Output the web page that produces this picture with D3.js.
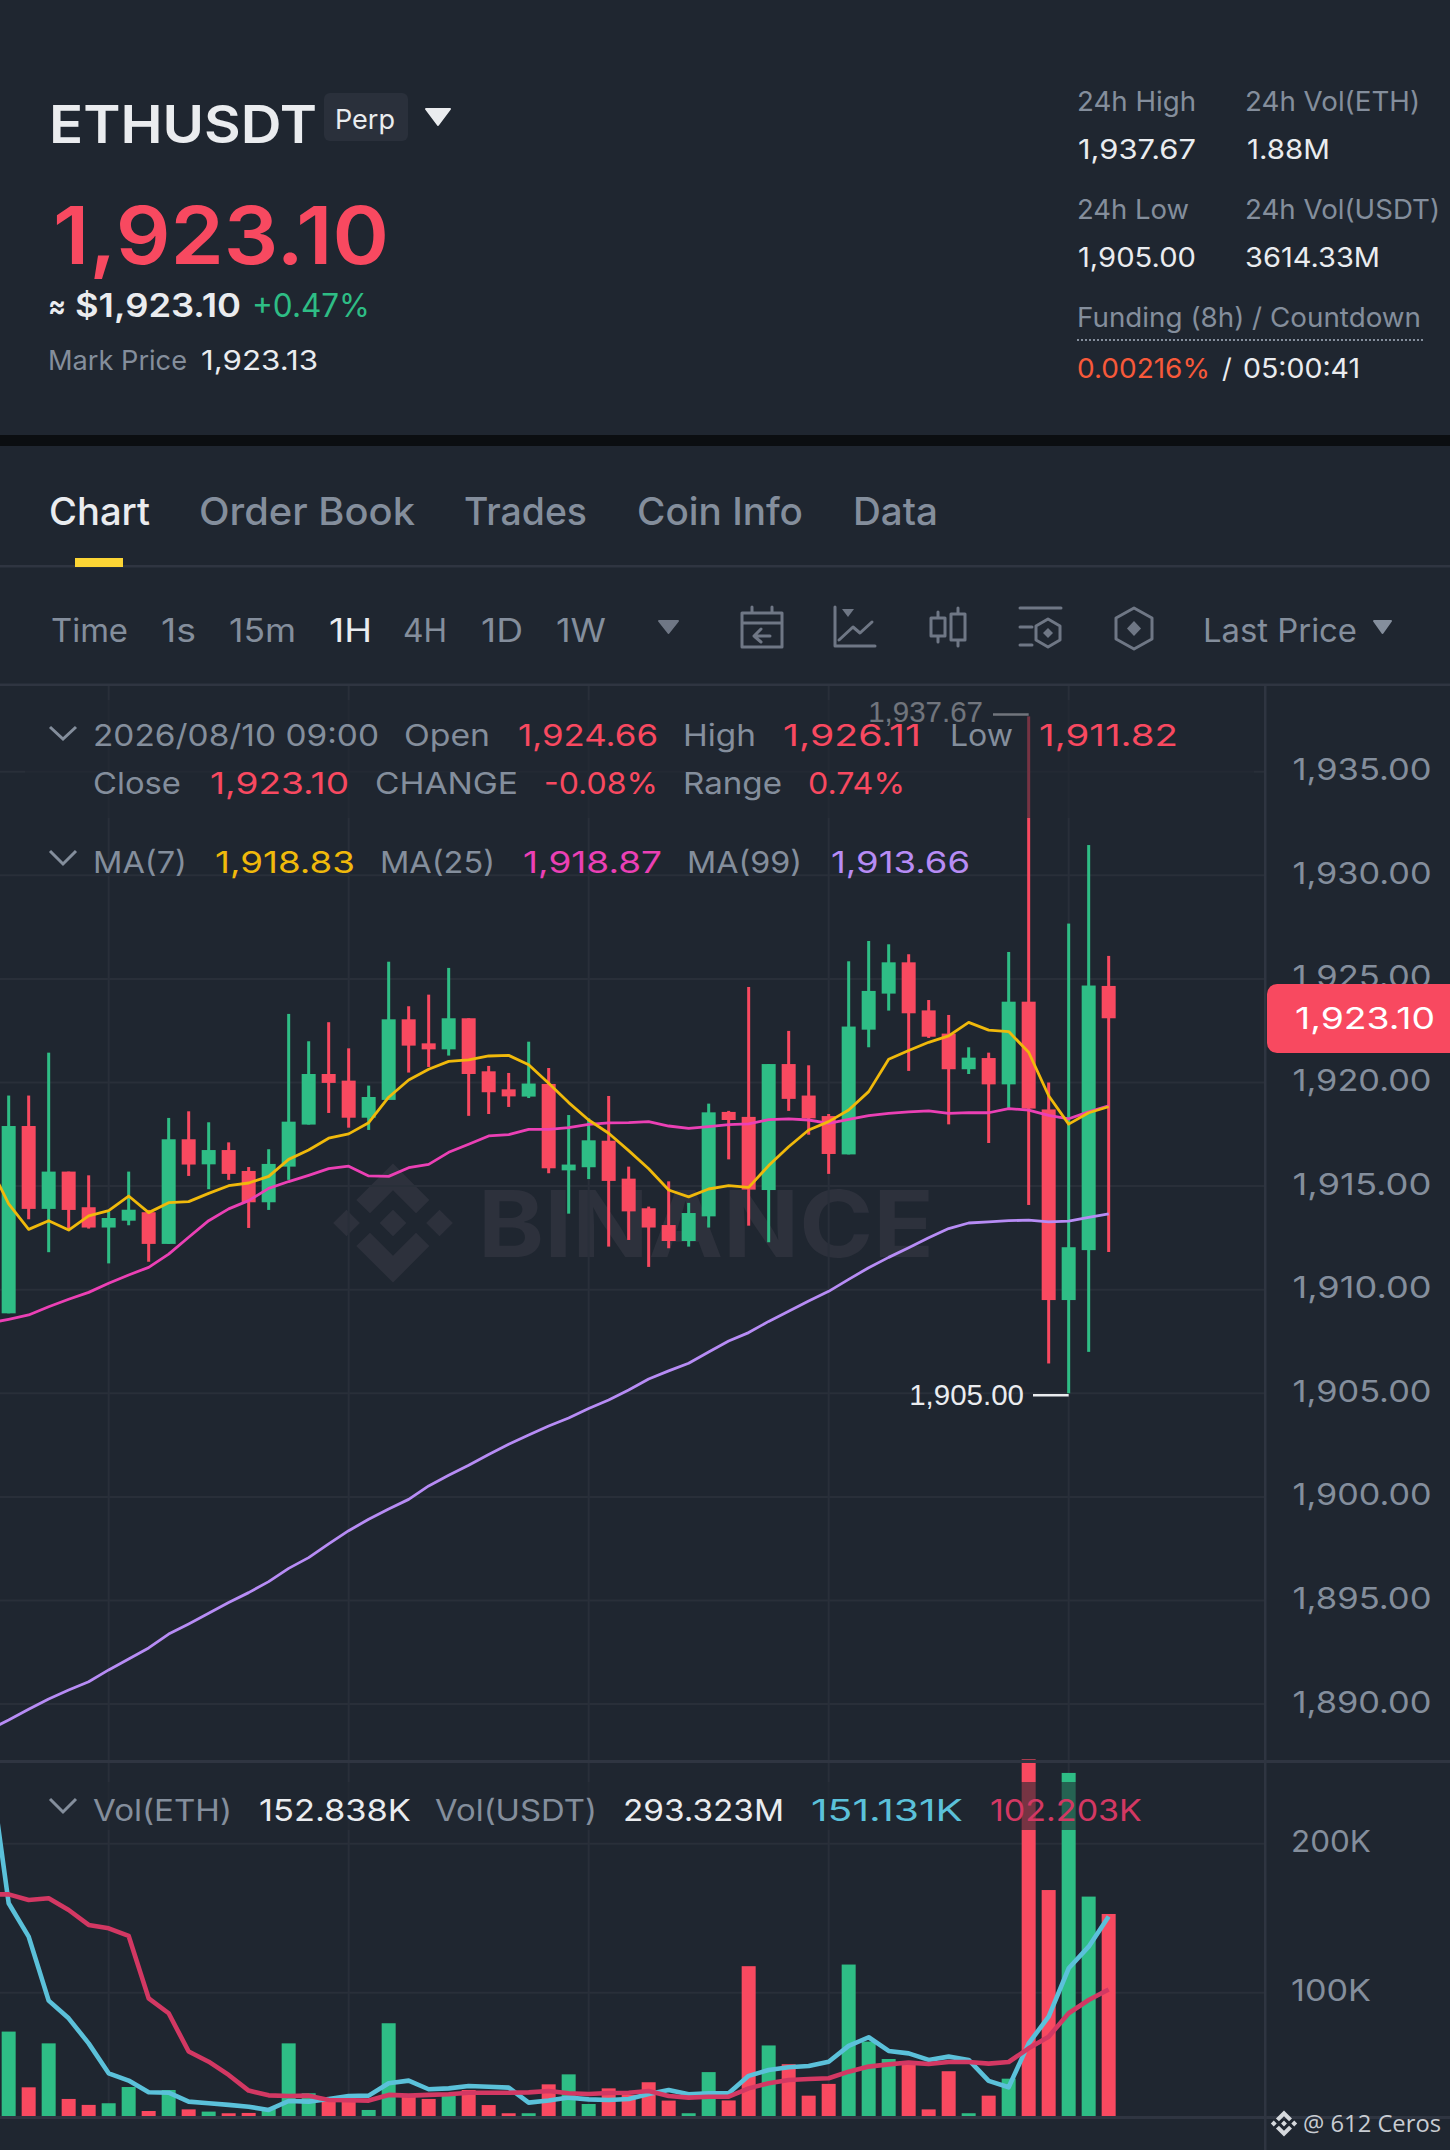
<!DOCTYPE html>
<html><head><meta charset="utf-8">
<style>html,body{margin:0;padding:0;background:#1f2630;overflow:hidden}svg{display:block}text{font-family:Inter,sans-serif}</style>
<script src="https://cdnjs.cloudflare.com/ajax/libs/d3/7.8.5/d3.min.js"></script>
</head><body><svg id="c" width="1450" height="2150" viewBox="0 0 1450 2150"></svg>
<script>
// candle data: [open, high, low, close]
const candles = [
[1908.86,1919.37,1908.86,1917.90],[1917.90,1919.37,1913.40,1913.90],[1913.90,1921.44,1911.81,1915.70],[1915.70,1915.70,1912.88,1913.85],
[1913.98,1915.52,1912.95,1913.00],[1913.00,1913.77,1911.27,1913.46],[1913.33,1915.70,1913.11,1913.86],[1913.74,1913.85,1911.35,1912.21],
[1912.21,1918.29,1912.21,1917.26],[1917.26,1918.61,1915.49,1916.04],[1916.05,1918.08,1914.85,1916.74],[1916.74,1917.11,1915.30,1915.59],
[1915.73,1915.92,1912.98,1914.22],[1914.22,1916.78,1913.85,1916.07],[1915.94,1923.31,1915.30,1918.11],[1917.97,1921.99,1917.97,1920.41],
[1920.41,1922.91,1918.53,1919.98],[1920.09,1921.65,1917.82,1918.30],[1918.30,1919.85,1917.71,1919.30],[1919.16,1925.83,1919.16,1923.05],
[1923.05,1923.68,1920.48,1921.78],[1921.89,1924.24,1920.75,1921.60],[1921.60,1925.53,1921.30,1923.10],[1923.10,1923.10,1918.39,1920.41],
[1920.54,1920.80,1918.48,1919.53],[1919.67,1920.46,1918.82,1919.33],[1919.32,1921.97,1919.25,1919.95],[1919.93,1920.70,1915.62,1915.86],
[1915.76,1918.43,1913.67,1916.04],[1915.91,1918.27,1915.34,1917.21],[1917.19,1919.35,1912.08,1915.25],[1915.36,1915.94,1912.40,1913.78],
[1913.93,1914.01,1911.10,1913.00],[1913.12,1915.23,1912.00,1912.35],[1912.35,1914.19,1912.08,1913.70],[1913.54,1918.98,1913.00,1918.56],
[1918.58,1918.63,1916.29,1918.19],[1918.34,1924.61,1913.09,1914.83],[1914.81,1920.89,1912.29,1920.89],[1920.89,1922.49,1918.63,1919.21],
[1919.37,1920.83,1917.48,1918.27],[1918.38,1918.48,1915.59,1916.55],[1916.53,1925.85,1916.53,1922.70],[1922.55,1926.83,1921.70,1924.42],
[1924.29,1926.67,1923.47,1925.80],[1925.80,1926.19,1920.56,1923.34],[1923.48,1923.98,1922.15,1922.21],[1922.36,1923.26,1917.98,1920.64],
[1920.64,1921.70,1920.41,1921.20],[1921.18,1921.44,1917.08,1919.91],[1919.91,1926.30,1918.74,1923.90],[1923.90,1937.67,1914.09,1918.74],
[1918.70,1920.00,1906.44,1909.50],[1909.50,1927.67,1905.00,1912.05],[1911.91,1931.46,1907.00,1924.68],[1924.66,1926.11,1911.82,1923.10]];
// moving averages; first entry is the candle just left of the window
const ma7 = [1916.10,1914.14,1912.91,1913.33,1912.88,1913.56,1913.82,1914.52,1913.72,1914.20,1914.25,1914.65,1915.02,1915.15,1915.47,1916.29,1916.74,1917.31,1917.52,1918.06,1919.29,1920.12,1920.64,1921.02,1921.09,1921.28,1921.31,1920.86,1919.96,1919.03,1918.19,1917.55,1916.71,1915.84,1914.81,1914.48,1914.86,1915.02,1914.94,1915.99,1916.90,1917.71,1918.11,1918.67,1919.56,1921.12,1921.54,1921.94,1922.25,1922.90,1922.53,1922.46,1921.46,1919.36,1917.99,1918.54,1918.83];
const ma25 = [1908.38,1908.57,1908.78,1909.18,1909.54,1909.87,1910.31,1910.71,1911.08,1911.72,1912.53,1913.33,1913.90,1914.30,1914.89,1915.22,1915.52,1915.84,1915.96,1915.49,1915.47,1915.89,1916.05,1916.63,1917.02,1917.42,1917.48,1917.74,1917.74,1917.82,1917.98,1918.05,1918.06,1918.11,1917.90,1917.79,1917.87,1917.97,1918.00,1918.21,1918.24,1918.19,1918.03,1918.22,1918.40,1918.51,1918.58,1918.63,1918.51,1918.55,1918.54,1918.74,1918.67,1918.41,1918.25,1918.58,1918.87];
const ma99 = [1888.75,1889.23,1889.75,1890.25,1890.68,1891.08,1891.65,1892.18,1892.71,1893.38,1893.87,1894.38,1894.90,1895.38,1895.91,1896.55,1897.07,1897.73,1898.37,1898.92,1899.42,1899.88,1900.53,1901.04,1901.53,1902.05,1902.54,1902.99,1903.42,1903.81,1904.27,1904.68,1905.16,1905.69,1906.08,1906.45,1906.99,1907.52,1907.93,1908.47,1908.96,1909.46,1909.92,1910.50,1911.06,1911.56,1912.03,1912.51,1912.95,1913.22,1913.27,1913.33,1913.36,1913.27,1913.31,1913.49,1913.66];
// volume in thousands of ETH
const volume = [73.9,36.5,66.0,28.7,24.7,25.8,36.7,20.6,34.7,21.7,20.2,19.1,19.3,22.4,66.0,32.5,29.1,29.1,21.3,79.5,30.2,28.7,31.4,34.7,24.6,19.1,19.1,38.5,45.2,25.3,35.8,31.4,39.9,27.6,19.1,46.7,27.7,117.8,64.6,52.0,30.9,38.8,118.9,67.2,55.5,53.7,21.7,47.3,19.1,30.9,42.3,256.6,168.9,247.5,164.5,152.838];
const volMaBlue = [258,160.0,137.6,94.7,82.8,66.0,45.9,41.0,33.2,32.9,26.9,25.8,24.7,23.5,21.3,27.3,26.9,28.7,30.7,30.9,39.2,41.0,35.2,35.8,37.4,36.9,36.3,26.2,27.6,29.6,28.4,28.0,28.7,32.0,34.7,31.8,32.5,32.5,44.2,48.1,50.0,50.8,53.7,64.3,70.1,60.9,59.3,54.9,57.1,54.9,40.8,36.5,66.0,83.9,116.4,130.9,151.131];
const volMaRed = [166.0,166.0,162.2,163.4,155.5,145.5,143.2,138.1,96.2,86.2,60.5,53.7,44.8,34.3,31.1,30.7,30.9,28.0,27.8,27.6,31.4,30.9,31.4,31.8,32.9,32.9,32.9,33.1,34.0,32.5,32.0,32.7,32.9,34.0,30.7,29.6,30.2,30.2,35.8,39.2,41.4,42.1,42.6,47.0,50.4,51.9,53.1,52.2,53.5,53.5,52.4,53.5,62.7,70.5,86.2,95.1,102.203];
const priceTicks = [1890,1895,1900,1905,1910,1915,1920,1925,1930,1935];
const volTicks = [100,200];
const gridIndexes = [5,17,29,41,53];
const periodTabs = ["Chart","Order Book","Trades","Coin Info","Data"];

const BG="#1f2630", RED="#f84960", GREEN="#2ebd85", GREY="#848e9c", WHITE="#eaecef", GRID="#292f39", SEP="#2f3541";
const svg=d3.select("#c");
const x=d3.scaleLinear().domain([0,55]).range([8.67,1108.67]);
const y=d3.scaleLinear().domain([1905,1935]).range([1393.3,771.7]);
const yV=d3.scaleLinear().domain([0,200]).range([2141.7,1843.7]);
const VOL_BASE=2116.7, BODY=14, WICK=3;

svg.append("rect").attr("width",1450).attr("height",2150).attr("fill",BG);

function txt(par,s,xp,base,size,fill,o={}){
  const t=par.append("text").attr("x",xp).attr("y",base).attr("font-size",size).attr("fill",fill).text(s)
    .attr("font-weight",o.weight||400);
  if(o.w){t.attr("textLength",o.w).attr("lengthAdjust",o.adjust||"spacingAndGlyphs");}
  if(o.family)t.style("font-family",o.family);
  if(o.anchor)t.attr("text-anchor",o.anchor);
  return t;
}
const tri=(par,x0,x1,y0,y1,fill)=>par.append("path").attr("d",`M${x0} ${y0}L${x1} ${y0}L${(x0+x1)/2} ${y1}Z`).attr("fill",fill).attr("stroke",fill).attr("stroke-width",2).attr("stroke-linejoin","round");
const chev=(par,x0,x1,y0,y1)=>par.append("path").attr("d",`M${x0} ${y0}L${(x0+x1)/2} ${y1}L${x1} ${y0}`).attr("fill","none").attr("stroke",GREY).attr("stroke-width",3);

// ---------- header
const head=svg.append("g");
txt(head,"ETHUSDT",49,143,52,WHITE,{weight:600,w:268});
head.append("rect").attr("x",324).attr("y",93).attr("width",84).attr("height",48).attr("rx",6).attr("fill","#2a303b");
txt(head,"Perp",335,129,27,WHITE,{w:60});
tri(head,426,450,109,125,WHITE);
txt(head,"1,923.10",53,264,80,RED,{weight:600,w:336});
txt(head,"≈",48,317,32,WHITE,{weight:600,w:18});
txt(head,"$1,923.10",75,317,32,WHITE,{weight:600,w:166});
txt(head,"+0.47%",252,317,32,GREEN,{w:118});
txt(head,"Mark Price",48,370,27,GREY,{w:139});
txt(head,"1,923.13",201,370,27,WHITE,{w:117});
txt(head,"24h High",1077,111,27,GREY,{w:119});
txt(head,"24h Vol(ETH)",1245,111,27,GREY,{w:175});
txt(head,"1,937.67",1078,159,27,WHITE,{w:118});
txt(head,"1.88M",1247,159,27,WHITE,{w:83});
txt(head,"24h Low",1077,219,27,GREY,{w:112});
txt(head,"24h Vol(USDT)",1245,219,27,GREY,{w:195});
txt(head,"1,905.00",1078,267,27,WHITE,{w:118});
txt(head,"3614.33M",1245,267,27,WHITE,{w:135});
txt(head,"Funding (8h) / Countdown",1077,327,27,GREY,{w:344});
head.append("line").attr("x1",1077).attr("x2",1423).attr("y1",340).attr("y2",340).attr("stroke",GREY).attr("stroke-width",2).attr("stroke-dasharray","2 2");
txt(head,"0.00216%",1077,378,27,"#f7593a",{w:133});
txt(head,"/",1222,378,27,WHITE);
txt(head,"05:00:41",1243,378,27,WHITE,{w:117});
head.append("rect").attr("y",435).attr("width",1450).attr("height",11).attr("fill","#0b0e11");

// ---------- tabs
const tabs=svg.append("g");
const tabX=[[49,101],[199,216],[464,123],[637,166],[853,85]];
periodTabs.forEach((s,i)=>txt(tabs,s,tabX[i][0],525,38,i?GREY:WHITE,{weight:500,w:tabX[i][1]}));
tabs.append("rect").attr("y",565).attr("width",1450).attr("height",2.5).attr("fill",SEP);
tabs.append("rect").attr("x",75).attr("y",558).attr("width",48).attr("height",9).attr("fill","#fcd535");

// ---------- toolbar
const bar=svg.append("g");
[["Time",51,77],["1s",161,35],["15m",229,67],["1H",329,43],["4H",403,44],["1D",481,42],["1W",556,50]].forEach(d=>
  txt(bar,d[0],d[1],641.5,32,d[0]==="1H"?WHITE:GREY,{w:d[2]}));
txt(bar,"Last Price",1203,641.5,32,GREY,{w:154});
tri(bar,659,678,621,633,"#6f7785"); tri(bar,1374,1391,621,633,"#848e9c");
const ic=bar.append("g").attr("fill","none").attr("stroke","#6f7785").attr("stroke-width",3).attr("stroke-linecap","round").attr("stroke-linejoin","round");
ic.append("path").attr("d","M742 613H782V647H742ZM742 623H782M752 607V613M772 607V613M770 636H754M761 629L754 636L761 642");
ic.append("path").attr("d","M835 607V646H875M839 640L853 627L860 633L872 622");
bar.append("path").attr("d","M842 609H854L848 617Z").attr("fill","#6f7785");
ic.append("path").attr("d","M931 618H945V636H931ZM938 612V618M938 636V642M951 614H965V640H951ZM958 608V614M958 640V646");
ic.append("path").attr("d","M1020 608H1061M1020 627H1032M1020 645H1032M1048 619L1060 626V640L1048 647L1036 640V626Z");
bar.append("path").attr("d","M1048 628L1053 633L1048 638L1043 633Z").attr("fill","#6f7785");
ic.append("path").attr("d","M1134 608L1152 618V639L1134 649L1116 639V618Z");
bar.append("path").attr("d","M1134 621L1141 628.5L1134 636L1127 628.5Z").attr("fill","#6f7785");
bar.append("rect").attr("y",683.5).attr("width",1450).attr("height",2.5).attr("fill",SEP);

// ---------- watermark
const wm=svg.append("g").attr("fill","#2d313c");
const logo=wm.append("g").attr("transform","translate(393,1223)");
logo.append("path").attr("d","M0 -59.5L36.3 -23L23 -9.7L0 -32.7L-23 -9.7L-36.7 -23ZM0 59.5L36.3 23L23 9.7L0 32.7L-23 9.7L-36.7 23ZM0 -13.3L13.3 0L0 13.3L-13.3 0ZM-46.5 -13.3L-33.2 0L-46.5 13.3L-59.8 0ZM46.5 -13.3L59.8 0L46.5 13.3L33.2 0Z");
txt(wm,"BINANCE",478,1257,92,"#2d313c",{weight:700,w:456});

// ---------- grid
const grid=svg.append("g").attr("stroke",GRID).attr("stroke-width",2);
grid.selectAll("line.h").data(priceTicks).join("line").attr("x1",0).attr("x2",1265).attr("y1",d=>y(d)).attr("y2",d=>y(d));
grid.selectAll("line.vh").data(volTicks).join("line").attr("class","vh").attr("x1",0).attr("x2",1265).attr("y1",d=>yV(d)).attr("y2",d=>yV(d));
grid.selectAll("line.v").data(gridIndexes).join("line").attr("class","v").attr("x1",d=>x(d)).attr("x2",d=>x(d)).attr("y1",686).attr("y2",VOL_BASE);

// ---------- candles
const cg=svg.append("g");
const col=d=>d[3]>=d[0]?GREEN:RED;
cg.selectAll("rect.w").data(candles).join("rect").attr("class","w")
  .attr("x",(d,i)=>x(i)-WICK/2).attr("width",WICK).attr("y",d=>y(d[1])).attr("height",d=>y(d[2])-y(d[1])).attr("fill",col);
cg.selectAll("rect.b").data(candles).join("rect").attr("class","b")
  .attr("x",(d,i)=>x(i)-BODY/2).attr("width",BODY).attr("y",d=>y(Math.max(d[0],d[3]))).attr("height",d=>Math.max(1.5,Math.abs(y(d[0])-y(d[3])))).attr("fill",col);

// ---------- moving averages (index 0 of each list sits one candle left of the window)
const priceLine=d3.line().x((d,i)=>x(i-1)).y(d=>y(d));
[[ma99,"#b78cf5"],[ma25,"#eb40b5"],[ma7,"#f0b90b"]].forEach(([s,c])=>
  svg.append("path").attr("d",priceLine(s)).attr("fill","none").attr("stroke",c).attr("stroke-width",2.8).attr("stroke-linejoin","round"));

// ---------- high / low markers
const hi=candles.reduce((a,d,i)=>d[1]>candles[a][1]?i:a,0), lo=candles.reduce((a,d,i)=>d[2]<candles[a][2]?i:a,0);
const fmt=d3.format(",.2f");
const marks=svg.append("g");
txt(marks,fmt(candles[hi][1]),983,722,29.5,WHITE,{family:"'Liberation Sans'",anchor:"end"});
marks.append("line").attr("x1",993).attr("x2",x(hi)).attr("y1",y(candles[hi][1])-2).attr("y2",y(candles[hi][1])-2).attr("stroke",WHITE).attr("stroke-width",2.5);
txt(marks,fmt(candles[lo][2]),1024,1405,29.5,WHITE,{family:"'Liberation Sans'",anchor:"end"});
marks.append("line").attr("x1",1033).attr("x2",x(lo)).attr("y1",y(candles[lo][2])+2).attr("y2",y(candles[lo][2])+2).attr("stroke",WHITE).attr("stroke-width",2.5);

// ---------- volume pane
const vg=svg.append("g");
vg.selectAll("rect").data(volume).join("rect")
  .attr("x",(d,i)=>x(i)-BODY/2).attr("width",BODY).attr("y",d=>yV(d)).attr("height",d=>VOL_BASE-yV(d))
  .attr("fill",(d,i)=>col(candles[i]));
const volLine=d3.line().x((d,i)=>x(i-1)).y(d=>yV(d));
[[volMaBlue,"#5bc1da"],[volMaRed,"#d33863"]].forEach(([s,c])=>
  svg.append("path").attr("d",volLine(s)).attr("fill","none").attr("stroke",c).attr("stroke-width",4.6).attr("stroke-linejoin","round"));

// ---------- pane separators
svg.append("rect").attr("y",1760).attr("width",1450).attr("height",3).attr("fill",SEP);
svg.append("rect").attr("y",2116).attr("width",1450).attr("height",3).attr("fill",SEP);
svg.append("rect").attr("x",1264).attr("y",686).attr("width",2.5).attr("height",1464).attr("fill",SEP);

// ---------- legends
svg.append("rect").attr("x",25).attr("y",700).attr("width",1229).attr("height",118).attr("fill",BG).attr("opacity",.6);
svg.append("rect").attr("x",25).attr("y",1782).attr("width",1125).attr("height",48).attr("fill",BG).attr("opacity",.6);
const lg=svg.append("g");
chev(lg,50,76,727,739); chev(lg,50,76,851,864); chev(lg,50,76,1799,1812);
const S=30;
[["2026/08/10 09:00",93,286,GREY,746],["Open",404,86,GREY,746],["1,924.66",518,140,RED,746],["High",683,73,GREY,746],["1,926.11",783,138,RED,746],["Low",950,63,GREY,746],["1,911.82",1039,139,RED,746],
 ["Close",93,88,GREY,794],["1,923.10",210,139,RED,794],["CHANGE",375,143,GREY,794],["-0.08%",544,114,RED,794],["Range",683,99,GREY,794],["0.74%",808,97,RED,794],
 ["MA(7)",93,94,GREY,873],["1,918.83",215,140,"#f0b90b",873],["MA(25)",380,115,GREY,873],["1,918.87",523,139,"#eb40b5",873],["MA(99)",687,115,GREY,873],["1,913.66",831,139,"#b78cf5",873],
 ["Vol(ETH)",93,139,GREY,1820.5],["152.838K",259,152,WHITE,1820.5],["Vol(USDT)",435,162,GREY,1820.5],["293.323M",623,161,WHITE,1820.5],["151.131K",811,152,"#5bc1da",1820.5],["102.203K",990,152,"#d33863",1820.5]
].forEach(d=>txt(lg,d[0],d[1],d[4],S,d[3],{w:d[2]}));

// ---------- axes
const axP=svg.append("g").attr("transform","translate(1431.5,0)").call(d3.axisRight(y).tickValues(priceTicks).tickFormat(fmt).tickSize(0).tickPadding(0));
const axV=svg.append("g").attr("transform","translate(1371,0)").call(d3.axisRight(yV).tickValues(volTicks).tickFormat(d=>d+"K").tickSize(0).tickPadding(0));
[axP,axV].forEach(a=>{a.select(".domain").remove();
  a.selectAll("text").attr("text-anchor","end").attr("x",0).attr("dy",null).attr("dominant-baseline",null).attr("font-size",30).attr("fill",GREY).style("font-family","Inter,sans-serif");});
axP.selectAll(".tick text").attr("y",8).attr("textLength",139).attr("lengthAdjust","spacingAndGlyphs");
axV.selectAll(".tick text").attr("y",8).attr("textLength",80).attr("lengthAdjust","spacingAndGlyphs");

// ---------- last price tag
const last=candles[candles.length-1][3];
svg.append("path").attr("d",`M1450 984H1277a10 10 0 0 0 -10 10V1043a10 10 0 0 0 10 10H1450Z`).attr("fill",RED);
txt(svg,fmt(last),1295,1029,30,"#fff",{w:140});

// ---------- footer mark
const fm=svg.append("g").attr("fill","#d5d8dc").attr("transform","translate(1284,2123.5) scale(.22)");
fm.append("path").attr("d","M0 -59.5L36.3 -23L23 -9.7L0 -32.7L-23 -9.7L-36.7 -23ZM0 59.5L36.3 23L23 9.7L0 32.7L-23 9.7L-36.7 23ZM0 -13.3L13.3 0L0 13.3L-13.3 0ZM-46.5 -13.3L-33.2 0L-46.5 13.3L-59.8 0ZM46.5 -13.3L59.8 0L46.5 13.3L33.2 0Z");
txt(svg,"@ 612 Ceros",1303,2131.5,24,"#c8ccd2",{family:"'Open Sans'",w:138});
</script></body></html>
